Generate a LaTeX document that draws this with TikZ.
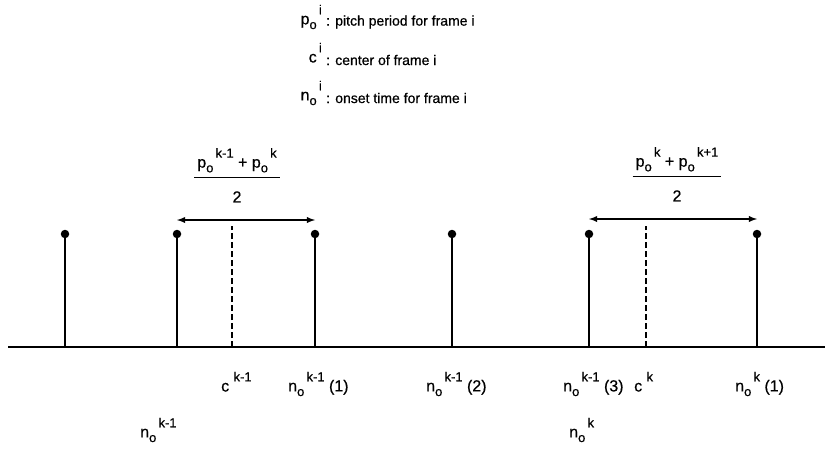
\documentclass[tikz,border=0pt]{standalone}
\usepackage{fontspec}
\setmainfont[FakeBold=0.6]{Liberation Sans}
\usepackage{tikz}
\usetikzlibrary{arrows,positioning}

% symbol with subscript and superscript, e.g. n_o^{k-1}
\newcommand{\sig}[3]{#1\raisebox{-0.55ex}{\fontsize{13}{13}\selectfont #2}\raisebox{1.2ex}{\fontsize{13}{13}\selectfont\,#3}}

\begin{document}
\begin{tikzpicture}[x=1pt,y=-1pt,
  lbl/.style={inner sep=0pt, anchor=west, font=\fontsize{16}{18}\selectfont},
  legtxt/.style={inner sep=0pt, anchor=west, font=\fontsize{14}{16}\selectfont},
  legsym/.style={inner sep=0pt, anchor=east, font=\fontsize{16}{18}\selectfont},
  frac/.style={inner sep=0pt, font=\fontsize{16}{18}\selectfont},
  dot/.style={circle, fill, inner sep=0pt, minimum size=8.5pt},
  stem/.style={line width=1.8pt},
  axis/.style={line width=2.2pt},
  centre/.style={dashed, line width=1.1pt, dash pattern=on 6pt off 3pt},
  span/.style={<->, >=latex, line width=1.8pt}
]
\useasboundingbox (0,0) rectangle (827,453);

% legend
\node[legsym] (lp) at (322,17) {\sig{p}{o}{i}};
\node[legtxt] (lpt) at (326,22) {: pitch period for frame i};
\node[legsym] (lc) at (322,55) {\sig{c}{}{i}};
\node[legtxt] (lct) at (326,60) {: center of frame i};
\node[legsym] (ln) at (322,93) {\sig{n}{o}{i}};
\node[legtxt] (lnt) at (326,98) {: onset time for frame i};

% axis
\coordinate (ax0) at (8,347);
\coordinate (ax1) at (825,347);
\draw[axis] (ax0) -- (ax1);

% pitch marks
\coordinate (b1) at (65,347);
\coordinate (b2) at (177,347);
\coordinate (b3) at (315,347);
\coordinate (b4) at (452,347);
\coordinate (b5) at (589,347);
\coordinate (b6) at (757,347);
\node[dot] (t1) at (65,234) {};
\node[dot] (t2) at (177,234) {};
\node[dot] (t3) at (315,234) {};
\node[dot] (t4) at (452,234) {};
\node[dot] (t5) at (589,234) {};
\node[dot] (t6) at (757,234) {};
\draw[stem] (b1) -- (t1.center);
\draw[stem] (b2) -- (t2.center);
\draw[stem] (b3) -- (t3.center);
\draw[stem] (b4) -- (t4.center);
\draw[stem] (b5) -- (t5.center);
\draw[stem] (b6) -- (t6.center);

% frame centres
\coordinate (cl0) at (232,347);
\coordinate (cl1) at (232,226);
\coordinate (cr0) at (646,347);
\coordinate (cr1) at (646,226);
\draw[centre] (cl0) -- (cl1);
\draw[centre] (cr0) -- (cr1);

% half periods
\coordinate (al) at (177,220);
\coordinate (ar) at (315,220);
\coordinate (bl) at (589,219);
\coordinate (br) at (757,219);
\draw[span] (al) -- (ar);
\draw[span] (bl) -- (br);
\node[frac] (fl) at (237,178) {\setlength{\arrayrulewidth}{1.4pt}%
  \begin{tabular}{@{\hspace{3pt}}c@{\hspace{3pt}}}\sig{p}{o}{k-1} + \sig{p}{o}{k}\\[4pt]\hline\rule{0pt}{24pt}2\end{tabular}};
\node[frac] (fr) at (677,177) {\setlength{\arrayrulewidth}{1.4pt}%
  \begin{tabular}{@{\hspace{3pt}}c@{\hspace{3pt}}}\sig{p}{o}{k} + \sig{p}{o}{k+1}\\[4pt]\hline\rule{0pt}{24pt}2\end{tabular}};

% labels under the axis
\node[lbl] (lc1) at (221,384) {\sig{c}{}{\,k-1}};
\node[lbl] (ln1) at (288,384) {\sig{n}{o}{k-1} (1)};
\node[lbl] (ln2) at (426,384) {\sig{n}{o}{k-1} (2)};
\node[lbl] (ln3) at (563,384) {\sig{n}{o}{k-1} (3)};
\node[lbl] (lc2) at (634,384) {\sig{c}{}{\,k}};
\node[lbl] (ln4) at (735,384) {\sig{n}{o}{k} (1)};
\node[lbl] (lo1) at (140,430) {\sig{n}{o}{k-1}};
\node[lbl] (lo2) at (569,430) {\sig{n}{o}{k}};
\end{tikzpicture}
\end{document}
